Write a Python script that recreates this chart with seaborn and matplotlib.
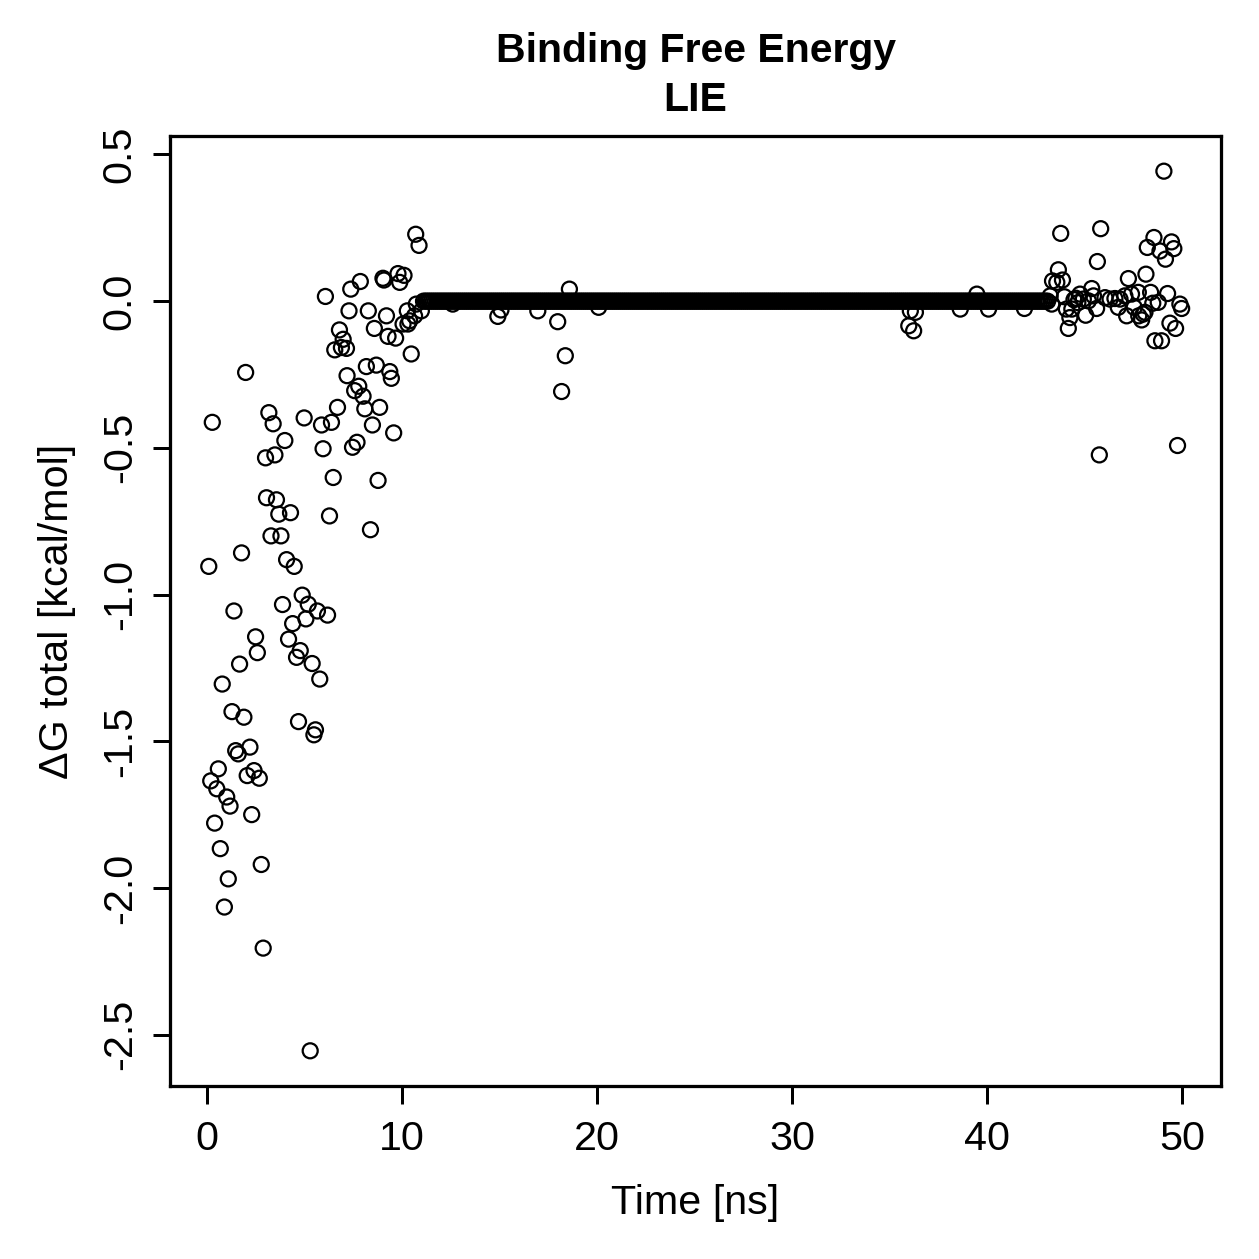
import numpy as np
import pandas as pd
import seaborn as sns
import matplotlib.pyplot as plt

# =========================
# Data
# =========================
# equilibration phase, 0-11 ns
early_time = [0.09, 0.19, 0.27, 0.39, 0.50, 0.58, 0.68, 0.78, 0.89, 1.01,
              1.09, 1.18, 1.28, 1.38, 1.47, 1.60, 1.67, 1.77, 1.89, 1.98,
              2.06, 2.20, 2.29, 2.41, 2.49, 2.58, 2.68, 2.78, 2.88, 3.00,
              3.05, 3.17, 3.28, 3.39, 3.48, 3.56, 3.68, 3.79, 3.87, 3.99,
              4.08, 4.18, 4.28, 4.39, 4.47, 4.59, 4.69, 4.78, 4.88, 4.98,
              5.07, 5.19, 5.29, 5.39, 5.48, 5.56, 5.66, 5.78, 5.87, 5.95,
              6.07, 6.18, 6.28, 6.38, 6.47, 6.55, 6.69, 6.79, 6.89, 6.98,
              7.15, 7.18, 7.28, 7.37, 7.46, 7.57, 7.69, 7.78, 7.86, 8.00,
              8.09, 8.17, 8.27, 8.38, 8.48, 8.58, 8.68, 8.77, 8.85, 9.02,
              9.07, 9.20, 9.28, 9.37, 9.45, 9.57, 9.67, 9.79, 9.88, 10.05,
              10.10, 10.27, 10.30, 10.39, 10.47, 10.64, 10.70, 10.73, 10.87, 10.99]
early_dg = [-0.904, -1.635, -0.413, -1.779, -1.662, -1.594, -1.866, -1.305, -2.065, -1.690,
            -1.969, -1.721, -1.399, -1.056, -1.532, -1.543, -1.237, -0.858, -1.418, -0.243,
            -1.617, -1.520, -1.750, -1.600, -1.144, -1.198, -1.626, -1.920, -2.205, -0.534,
            -0.670, -0.380, -0.800, -0.418, -0.524, -0.677, -0.726, -0.800, -1.034, -0.475,
            -0.881, -1.152, -0.721, -1.099, -0.904, -1.214, -1.433, -1.191, -1.002, -0.398,
            -1.083, -1.033, -2.555, -1.235, -1.478, -1.461, -1.056, -1.288, -0.422, -0.503,
            0.016, -1.070, -0.732, -0.413, -0.601, -0.166, -0.362, -0.098, -0.158, -0.130,
            -0.161, -0.254, -0.033, 0.041, -0.498, -0.305, -0.481, -0.290, 0.067, -0.324,
            -0.367, -0.223, -0.033, -0.779, -0.422, -0.093, -0.218, -0.611, -0.362, 0.078,
            0.072, -0.050, -0.120, -0.240, -0.263, -0.449, -0.126, 0.094, 0.064, -0.078,
            0.088, -0.033, -0.078, -0.067, -0.180, -0.050, 0.228, -0.010, 0.190, -0.033]

# plateau, 11-43 ns: one frame every 0.1 ns sitting at 0
plateau_time = np.round(np.arange(11.1, 43.15, 0.1), 2)
plateau_dg = np.zeros(len(plateau_time))

# frames on the plateau that leave the zero line
dev_time = [12.60, 14.91, 15.07, 16.96, 17.98, 18.18, 18.37, 18.58, 20.08,
            35.98, 36.06, 36.23, 36.32, 38.62, 39.47, 40.07, 41.91]
dev_dg = [-0.010, -0.052, -0.030, -0.033, -0.070, -0.308, -0.186, 0.041, -0.021,
          -0.084, -0.033, -0.101, -0.038, -0.027, 0.024, -0.027, -0.025]

# last part, 43-50 ns
late_time = [43.23, 43.31, 43.35, 43.57, 43.65, 43.77, 43.86, 43.96, 44.06, 44.16,
             44.24, 44.34, 44.45, 44.55, 44.65, 44.76, 44.93, 45.05, 45.19, 45.36,
             45.45, 45.61, 45.65, 45.75, 45.82, 46.04, 46.30, 46.55, 46.72, 46.81,
             47.06, 47.15, 47.24, 47.40, 47.54, 47.75, 47.77, 47.92, 48.00, 48.09,
             48.14, 48.21, 48.38, 48.49, 48.55, 48.60, 48.77, 48.86, 48.94, 49.06,
             49.14, 49.25, 49.37, 49.45, 49.57, 49.66, 49.76, 49.88, 49.97]
late_dg = [0.018, -0.010, 0.069, 0.064, 0.107, 0.231, 0.072, 0.015, -0.027, -0.093,
           -0.056, -0.027, 0.005, 0.010, -0.005, 0.024, 0.007, -0.048, 0.001, 0.043,
           0.018, -0.025, 0.135, -0.524, 0.247, 0.012, 0.007, 0.009, -0.021, 0.007,
           0.018, -0.050, 0.077, 0.024, -0.021, 0.030, -0.050, -0.064, -0.044, -0.038,
           0.092, 0.183, 0.030, -0.007, 0.217, -0.135, -0.004, 0.171, -0.135, 0.443,
           0.143, 0.026, -0.075, 0.202, 0.179, -0.093, -0.492, -0.010, -0.025]

x_ticks = [0, 10, 20, 30, 40, 50]
y_ticks = [-2.5, -2.0, -1.5, -1.0, -0.5, 0.0, 0.5]
y_tick_labels = ["-2.5", "-2.0", "-1.5", "-1.0", "-0.5", "0.0", "0.5"]

df = pd.DataFrame({
    "time": np.concatenate([early_time, plateau_time, dev_time, late_time]),
    "dg": np.concatenate([early_dg, plateau_dg, dev_dg, late_dg]),
})

# =========================
# Plot
# =========================
sns.set_style("ticks")
plt.rcParams["font.family"] = ["Liberation Sans", "DejaVu Sans"]
plt.rcParams["axes.unicode_minus"] = False
for key in ["text.color", "axes.labelcolor", "xtick.color", "ytick.color"]:
    plt.rcParams[key] = "black"

fig = plt.figure(figsize=(1259 / 180, 1259 / 180), dpi=180)
ax = fig.add_axes([0.135, 0.1374, 0.835, 0.7546])

sns.scatterplot(data=df, x="time", y="dg", ax=ax, marker="o", s=36,
                facecolor="none", edgecolor="black", linewidth=0.9)

ax.set_xlim(-1.9, 52.0)
ax.set_ylim(-2.675, 0.563)
ax.set_xticks(x_ticks)
ax.set_xticklabels([str(t) for t in x_ticks])
ax.set_yticks(y_ticks)
ax.set_yticklabels(y_tick_labels, rotation=90, va="center")

for side in ax.spines.values():
    side.set_linewidth(1.3)
    side.set_color("black")
ax.tick_params(direction="out", length=7, width=1.2, color="black",
               labelsize=16.5, labelcolor="black")
ax.tick_params(axis="x", pad=6.5)
ax.tick_params(axis="y", pad=5.5)

ax.set_xlabel("Time [ns]", fontsize=16.5, labelpad=10.5)
ax.set_ylabel("ΔG total [kcal/mol]", fontsize=16.5, labelpad=10)
ax.set_title("Binding Free Energy\nLIE", fontsize=16.4, fontweight="bold",
             pad=10, linespacing=1.38)

plt.savefig("out.png", dpi=180)
plt.close()
